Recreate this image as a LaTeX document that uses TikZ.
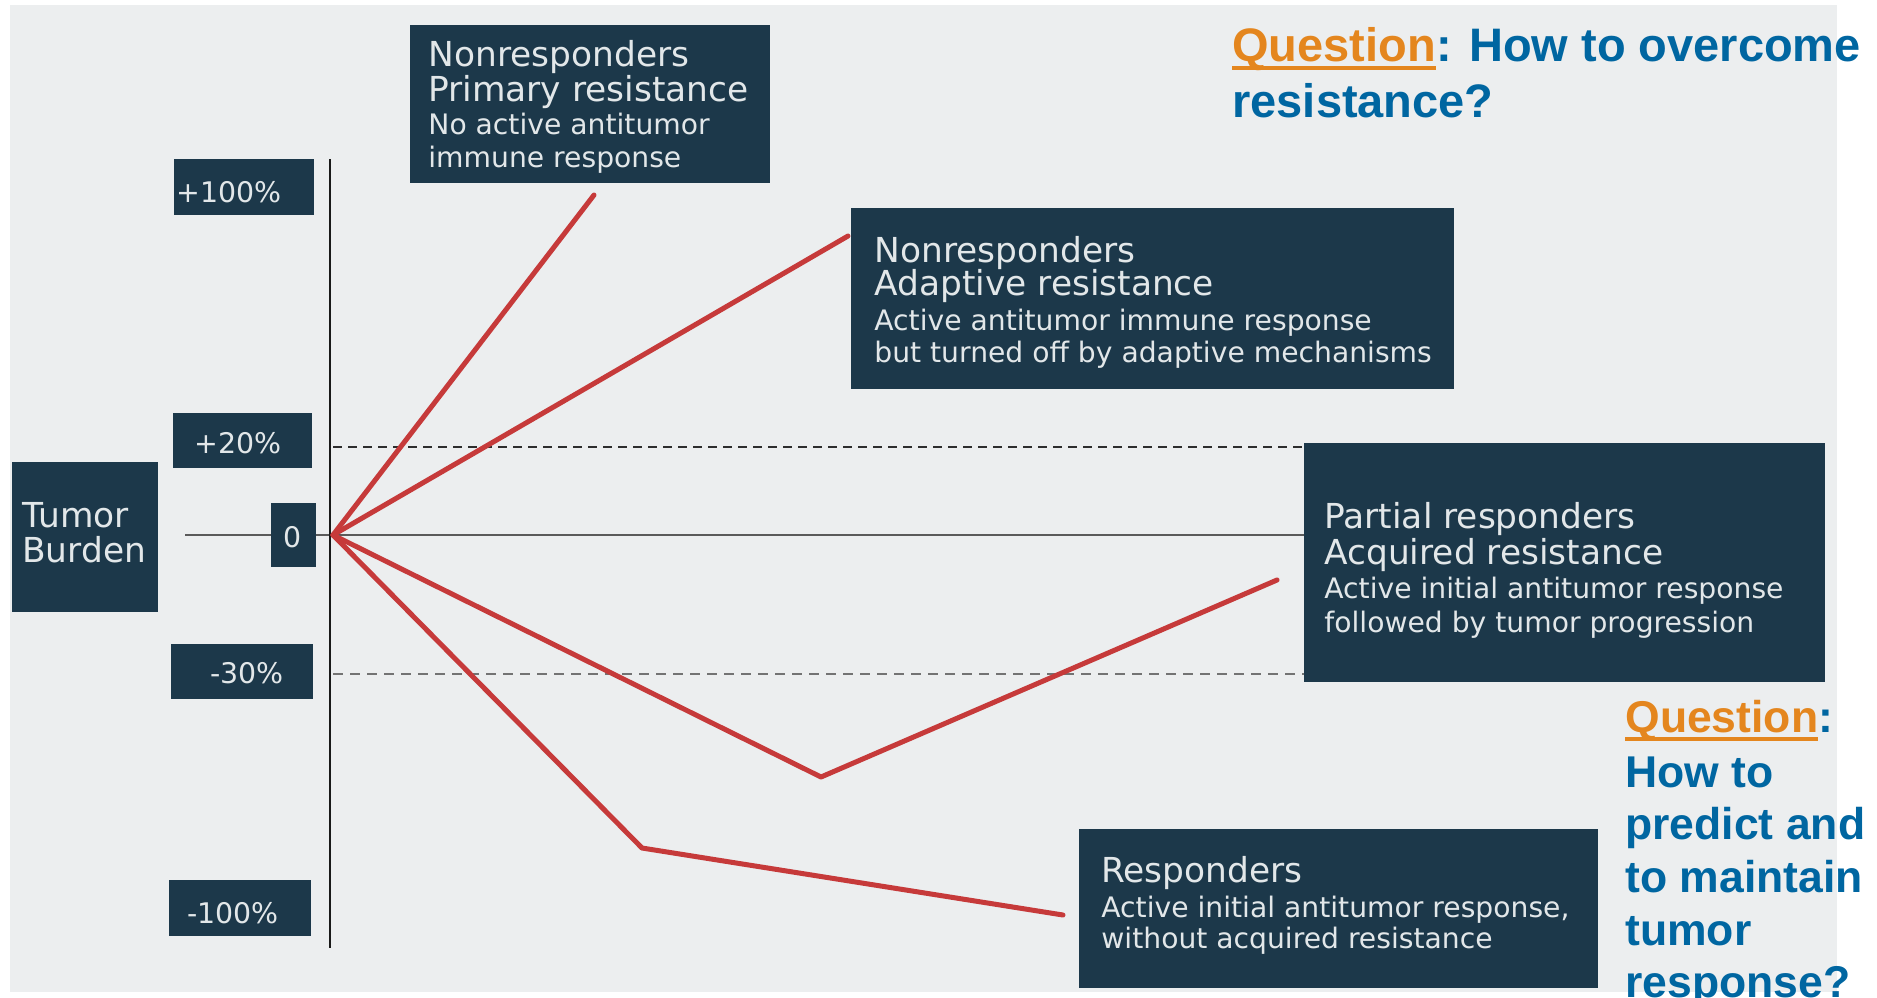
\documentclass[tikz,border=0pt]{standalone}
\usepackage{fontspec}
\setmainfont{DejaVu Sans}
\newfontfamily\qfont{Liberation Sans}
\definecolor{bgc}{RGB}{236,238,239}
\definecolor{boxc}{RGB}{28,56,74}
\definecolor{boxtxt}{RGB}{226,231,233}
\definecolor{redl}{RGB}{198,58,58}
\definecolor{qorange}{RGB}{228,134,30}
\definecolor{qblue}{RGB}{0,102,161}
\definecolor{zerol}{RGB}{90,90,90}
\definecolor{dashA}{RGB}{45,45,45}
\definecolor{dashB}{RGB}{115,115,115}
\newcommand\qmark[1]{\setbox0\hbox{\textcolor{qorange}{#1}}\rlap{\textcolor{qorange}{\rule[-0.2em]{\wd0}{0.085em}}}\box0}
\begin{document}
\begin{tikzpicture}[x=0.5pt,y=-0.5pt,
  darkbox/.style={fill=boxc,draw=none,inner sep=0pt,anchor=north west},
  ttl/.style={anchor=base west,inner sep=0pt,text=boxtxt,font=\fontsize{17.2}{20}\selectfont},
  dtl/.style={anchor=base west,inner sep=0pt,text=boxtxt,font=\fontsize{14.1}{17}\selectfont},
  lbl/.style={anchor=west,inner sep=0pt,text=boxtxt,font=\fontsize{14.2}{17}\selectfont},
  qone/.style={anchor=base west,inner sep=0pt,font=\qfont\bfseries\fontsize{23.5}{28}\selectfont},
  qtwo/.style={anchor=base west,inner sep=0pt,font=\qfont\bfseries\fontsize{22.25}{26}\selectfont},
  redline/.style={draw=redl,line width=2.5pt,line join=round,line cap=round}]
\useasboundingbox (0,0) rectangle (1877,997);
\fill[white] (0,0) rectangle (1877,997);
\fill[bgc] (10,5) rectangle (1837,992);

% coordinates
\coordinate (O) at (333,535);
\coordinate (zL) at (185,535);
\coordinate (zR) at (1304,535);
\coordinate (p20L) at (333,447);
\coordinate (p20R) at (1304,447);
\coordinate (m30L) at (333,674);
\coordinate (m30R) at (1304,674);
\coordinate (axTop) at (330,159);
\coordinate (axBot) at (330,948);
\coordinate (e1) at (594,195);
\coordinate (e2) at (848,236);
\coordinate (v3) at (821,777);
\coordinate (e3) at (1277,580);
\coordinate (v4) at (642,848);
\coordinate (e4) at (1063,915);

% reference lines
\draw[draw=dashA,line width=1.1pt,dash pattern=on 4.5pt off 3pt] (p20L) -- (p20R);
\draw[draw=dashB,line width=1pt,dash pattern=on 5pt off 3.5pt] (m30L) -- (m30R);
\draw[draw=zerol,line width=1pt] (zL) -- (zR);
\draw[draw=black!90,line width=1pt] (axTop) -- (axBot);

% red response curves
\draw[redline] (O) -- (e1);
\draw[redline] (O) -- (e2);
\draw[redline] (O) -- (v3) -- (e3);
\draw[redline] (O) -- (v4) -- (e4);

% boxes
\node[darkbox,minimum width=180pt,minimum height=79pt] (b1) at (410,25) {};
\node[darkbox,minimum width=301.5pt,minimum height=90.5pt] (b3) at (851,208) {};
\node[darkbox,minimum width=260.5pt,minimum height=119.5pt] (b9) at (1304,443) {};
\node[darkbox,minimum width=259.5pt,minimum height=79.5pt] (b10) at (1079,829) {};
\node[darkbox,minimum width=73pt,minimum height=75pt] (tb) at (12,462) {};
\node[darkbox,minimum width=70pt,minimum height=28pt] (l100) at (174,159) {};
\node[darkbox,minimum width=69.5pt,minimum height=27.5pt] (l20) at (173,413) {};
\node[darkbox,minimum width=22.5pt,minimum height=32pt] (l0) at (271,503) {};
\node[darkbox,minimum width=71pt,minimum height=27.5pt] (l30) at (171,644) {};
\node[darkbox,minimum width=71pt,minimum height=28pt] (l100n) at (169,880) {};

% box texts
\node[ttl] (b1a) at (428,66) {Nonresponders};
\node[ttl] (b1b) at (428,101) {Primary resistance};
\node[dtl] (b1c) at (428,134) {No active antitumor};
\node[dtl] (b1d) at (428,167) {immune response};

\node[ttl] (b3a) at (874,262) {Nonresponders};
\node[ttl] (b3b) at (874,295) {Adaptive resistance};
\node[dtl] (b3c) at (874,330) {Active antitumor immune response};
\node[dtl] (b3d) at (874,362) {but turned off by adaptive mechanisms};

\node[ttl] (b9a) at (1324,528) {Partial responders};
\node[ttl] (b9b) at (1324,564) {Acquired resistance};
\node[dtl] (b9c) at (1324,598) {Active initial antitumor response};
\node[dtl] (b9d) at (1324,632) {followed by tumor progression};

\node[ttl] (b10a) at (1101,882) {Responders};
\node[dtl] (b10b) at (1101,917) {Active initial antitumor response,};
\node[dtl] (b10c) at (1101,948) {without acquired resistance};

\node[ttl] (tba) at (22,527) {Tumor};
\node[ttl] (tbb) at (22,562) {Burden};

\node[lbl] (t100) at (176,192) {+100\%};
\node[lbl] (t20) at (194,443) {+20\%};
\node[lbl,anchor=center] (t0) at (293,537) {0};
\node[lbl] (t30) at (210,673) {-30\%};
\node[lbl] (t100n) at (187,913) {-100\%};

% questions
\node[qone] (q1a) at (1232,61) {\qmark{Question}\textcolor{qblue}{: How to overcome}};
\node[qone] (q1b) at (1232,117) {\textcolor{qblue}{resistance?}};

\node[qtwo] (q2a) at (1625,732) {\qmark{Question}\textcolor{qblue}{:}};
\node[qtwo] (q2b) at (1625,787) {\textcolor{qblue}{How to}};
\node[qtwo] (q2c) at (1625,839) {\textcolor{qblue}{predict and}};
\node[qtwo] (q2d) at (1625,892) {\textcolor{qblue}{to maintain}};
\node[qtwo] (q2e) at (1625,945) {\textcolor{qblue}{tumor}};
\node[qtwo] (q2f) at (1625,997) {\textcolor{qblue}{response?}};
\end{tikzpicture}
\end{document}
